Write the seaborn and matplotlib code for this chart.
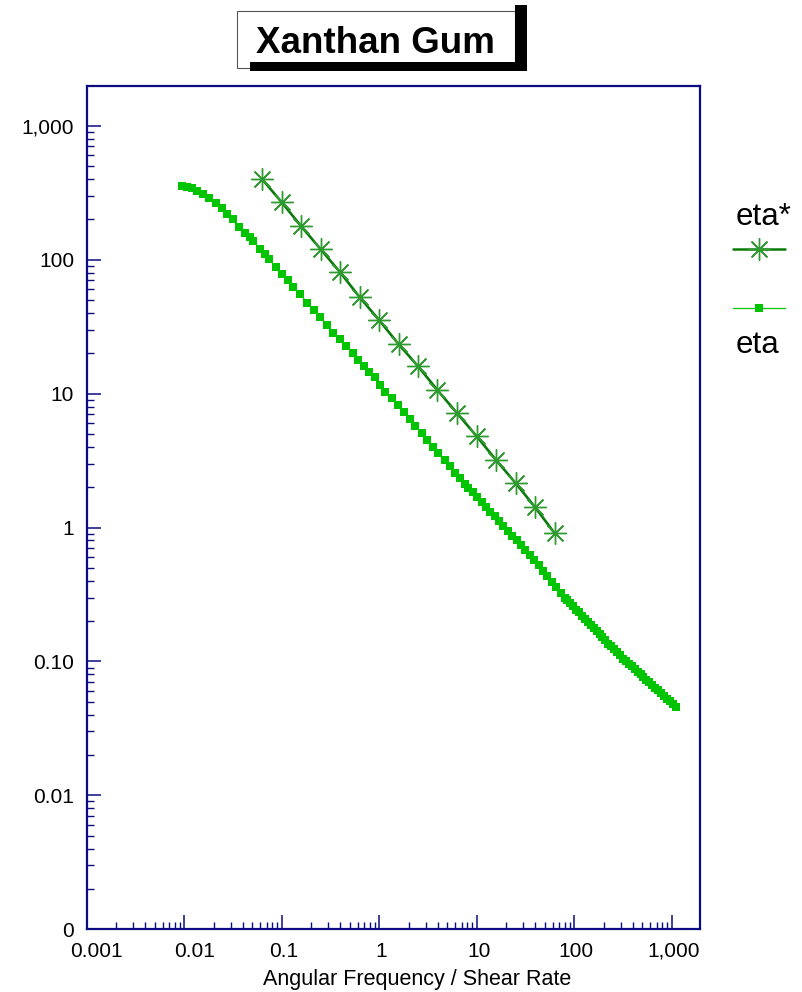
import matplotlib
matplotlib.use("Agg")
import numpy as np
import matplotlib.pyplot as plt
import seaborn as sns
from matplotlib.patches import Rectangle
from matplotlib.lines import Line2D
from matplotlib.ticker import FixedLocator, LogLocator, NullFormatter
from matplotlib.transforms import ScaledTranslation

# ========= DATA =========
# oscillatory sweep: complex viscosity eta* vs angular frequency
eta_star_rate = [0.0628, 0.0996, 0.158, 0.250, 0.396, 0.628, 0.996, 1.58,
                 2.50, 3.96, 6.28, 9.96, 15.8, 25.0, 39.6, 62.8]
eta_star = [400, 269, 178, 120, 80.7, 52.6, 35.4, 23.4,
            16.0, 10.6, 7.15, 4.81, 3.19, 2.15, 1.42, 0.908]

# steady shear: viscosity eta vs shear rate
eta_rate = [0.00942, 0.01062, 0.01194, 0.01361, 0.0157, 0.01807, 0.02118, 0.02427,
            0.02767, 0.03141, 0.03673, 0.04207, 0.0468, 0.05117, 0.05984, 0.0668,
            0.07464, 0.0875, 0.100, 0.1148, 0.1315, 0.1542, 0.1832, 0.2143,
            0.2472, 0.2897, 0.3381, 0.3963, 0.4529, 0.5346, 0.6109, 0.6982,
            0.7907, 0.9057, 1.019, 1.146, 1.343, 1.570, 1.795, 2.070,
            2.328, 2.729, 3.112, 3.589, 4.036, 4.732, 5.321, 5.998,
            6.745, 7.586, 8.204,
            9.12, 10.1, 11.2, 12.4, 13.8, 15.3, 17.0, 18.8,
            20.9, 23.2, 25.7, 28.5, 31.6, 35.1, 38.9, 43.2,
            47.9, 53.1, 58.9, 65.3, 72.4, 80.4, 85.1, 91.2,
            97.7, 104.7, 112.2, 120.2, 128.8, 138.0, 147.9, 158.5,
            169.8, 182.0, 195.0, 208.9, 223.9, 239.9, 257.0, 275.4,
            295.1, 316.2, 338.8, 363.1, 389.0, 416.9, 446.7, 478.6,
            512.9, 549.5, 588.8, 631.0, 676.1, 724.4, 776.2, 831.8,
            891.3, 955.0, 1023, 1096]
eta = [355, 350, 340, 325, 307, 287, 263, 241,
       218, 200, 176, 159, 147, 138, 120, 110,
       101, 87.5, 78.5, 70.2, 62.8, 55.3, 47.6, 42.1,
       37.1, 32.5, 28.5, 25.4, 22.6, 20.2, 17.8, 16.0,
       14.6, 13.2, 11.6, 10.3, 9.20, 8.20, 7.31, 6.41,
       5.71, 5.04, 4.50, 4.01, 3.61, 3.18, 2.88, 2.56,
       2.33, 2.11, 1.98,
       1.83, 1.69, 1.55, 1.43, 1.31, 1.21, 1.11, 1.03,
       0.944, 0.869, 0.800, 0.736, 0.678, 0.624, 0.574, 0.522,
       0.475, 0.433, 0.393, 0.358, 0.327, 0.300, 0.287, 0.272,
       0.258, 0.244, 0.232, 0.220, 0.208, 0.198, 0.188, 0.178,
       0.169, 0.160, 0.152, 0.144, 0.136, 0.130, 0.123, 0.117,
       0.111, 0.105, 0.1003, 0.0961, 0.0920, 0.0880, 0.0839, 0.0802,
       0.0765, 0.0731, 0.0699, 0.0666, 0.0637, 0.0607, 0.0580, 0.0552,
       0.0526, 0.0503, 0.0479, 0.0456]

x_ticks = [0.001, 0.01, 0.1, 1, 10, 100, 1000]
x_tick_labels = ["0.001", "0.01", "0.1", "1", "10", "100", "1,000"]
y_ticks = [0.001, 0.01, 0.1, 1, 10, 100, 1000]
y_tick_labels = ["0", "0.01", "0.10", "1", "10", "100", "1,000"]

# ========= STYLE =========
sns.set_style("white")
plt.rcParams["font.family"] = ["Liberation Sans", "DejaVu Sans"]
plt.rcParams["text.color"] = "black"
plt.rcParams["axes.labelcolor"] = "black"

AXIS = "#0c0c82"
DARK_GREEN = "#0b7a0b"
STAR_GREEN = "#2f9a2f"
GREEN = "#00c400"
STAR = (8, 2, 0)

W, H = 803, 992
fig = plt.figure(figsize=(W / 100, H / 100), dpi=100)
ax = fig.add_axes([86.7 / W, 62.7 / H, 613.3 / W, 843.6 / H])
ax.set_xscale("log")
ax.set_yscale("log")

# ========= PLOT =========
sns.lineplot(x=eta_rate, y=eta, ax=ax, color=GREEN, linewidth=0.8,
             marker="s", markersize=5.4, markeredgewidth=0,
             markerfacecolor=GREEN, markeredgecolor=GREEN,
             estimator=None, legend=False)
sns.lineplot(x=eta_star_rate, y=eta_star, ax=ax, color=DARK_GREEN, linewidth=1.9,
             marker=STAR, markersize=16, markeredgewidth=1.0,
             markeredgecolor=STAR_GREEN, estimator=None, legend=False)

ax.set_xlim(0.001, 1950)
ax.set_ylim(0.001, 1990)

ax.xaxis.set_major_locator(FixedLocator(x_ticks))
ax.yaxis.set_major_locator(FixedLocator(y_ticks))
ax.set_xticklabels(x_tick_labels)
ax.set_yticklabels(y_tick_labels)
ax.xaxis.set_minor_locator(LogLocator(base=10, subs=np.arange(2, 10), numticks=50))
ax.yaxis.set_minor_locator(LogLocator(base=10, subs=np.arange(2, 10), numticks=50))
ax.xaxis.set_minor_formatter(NullFormatter())
ax.yaxis.set_minor_formatter(NullFormatter())

ax.tick_params(which="both", direction="in", color=AXIS, labelcolor="black",
               bottom=True, left=True, top=False, right=False, labelsize=15, pad=9)
ax.tick_params(which="major", length=10, width=1.1)
ax.tick_params(which="minor", length=5, width=1.0)
for sp in ax.spines.values():
    sp.set_visible(True)
    sp.set_color(AXIS)
    sp.set_linewidth(1.6)

# x labels sit a little right of their ticks, the first two more so
for i, lab in enumerate(ax.get_xticklabels()):
    dx = 0.10 if i < 2 else 0.02
    lab.set_transform(lab.get_transform() + ScaledTranslation(dx, 0, fig.dpi_scale_trans))

ax.set_xlabel("Angular Frequency / Shear Rate", fontsize=15.5, color="black")
ax.xaxis.label.set_va("center")
ax.xaxis.set_label_coords((417 - 86.7) / 613.3, (929.3 - 980) / 843.6)

# ========= TITLE BOX =========
def fig_rect(x0, y0, x1, y1, **kw):
    fig.add_artist(Rectangle((x0 / W, 1 - y1 / H), (x1 - x0) / W, (y1 - y0) / H,
                             transform=fig.transFigure, **kw))

fig_rect(237, 11, 515, 68, facecolor="white", edgecolor="#555555", linewidth=0.8)
fig_rect(515, 5, 527, 71, facecolor="black", edgecolor="none")
fig_rect(250, 62, 527, 71, facecolor="black", edgecolor="none")
fig.text(375.5 / W, 1 - 53 / H, "Xanthan Gum", ha="center", va="baseline",
         fontsize=26.5, fontweight="bold", color="black")

# ========= LEGEND =========
fig.text(736 / W, 1 - 225 / H, "eta*", ha="left", va="baseline", fontsize=22.5, color="black")
fig.text(736 / W, 1 - 353 / H, "eta", ha="left", va="baseline", fontsize=22.5, color="black")
fig.add_artist(Line2D([733 / W, 785 / W], [1 - 249 / H] * 2, transform=fig.transFigure,
                      color=DARK_GREEN, linewidth=1.8))
fig.add_artist(Line2D([759 / W], [1 - 249 / H], transform=fig.transFigure, linestyle="none",
                      marker=STAR, markersize=16, markeredgewidth=1.0,
                      markeredgecolor=STAR_GREEN))
fig.add_artist(Line2D([733 / W, 785 / W], [1 - 308 / H] * 2, transform=fig.transFigure,
                      color=GREEN, linewidth=0.9))
fig.add_artist(Line2D([759 / W], [1 - 308 / H], transform=fig.transFigure, linestyle="none",
                      marker="s", markersize=6, markeredgewidth=0, markerfacecolor=GREEN))

fig.savefig("out.png", dpi=100)
